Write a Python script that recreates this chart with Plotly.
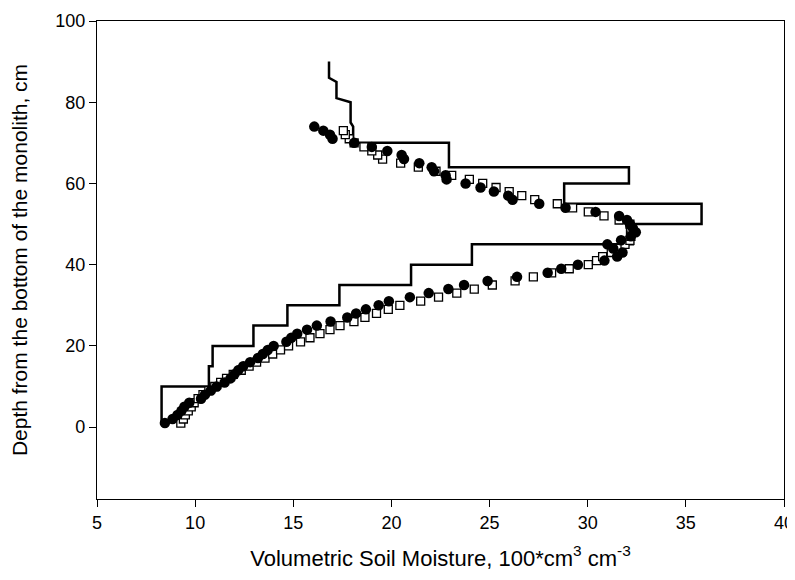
import plotly.graph_objects as go

# measured profile (step line), depth in cm vs moisture
line_depth = [90, 86, 85, 81, 80, 75, 74, 70, 70, 64, 64, 60, 60, 55, 55, 50, 50, 45, 45,
              40, 40, 35, 35, 30, 30, 25, 25, 20, 20, 15, 15, 10, 10, 1]
line_moisture = [16.82, 16.82, 17.2, 17.2, 17.92, 17.92, 18.05, 18.05, 22.93, 22.93, 32.1, 32.1,
                 28.8, 28.8, 35.8, 35.8, 32.3, 32.3, 24.1, 24.1, 21.0, 21.0, 17.35, 17.35,
                 14.7, 14.7, 12.97, 12.97, 10.89, 10.89, 10.7, 10.7, 8.29, 8.29]

# simulated profile A (filled circles), 1..74 cm
circle_depth = list(range(1, 75))
circle_moisture = [8.46, 8.85, 9.1, 9.3, 9.45, 9.7, 10.3, 10.5, 10.8, 11.1,
                   11.5, 11.8, 12.0, 12.2, 12.45, 12.8, 13.2, 13.45, 13.7, 14.0,
                   14.65, 14.9, 15.2, 15.7, 16.2, 16.9, 17.75, 18.2, 18.7, 19.35,
                   19.87, 20.94, 21.9, 22.9, 23.7, 24.9, 26.4, 27.96, 28.65, 29.5,
                   30.85, 31.5, 31.77, 31.3, 31.0, 31.7, 32.2, 32.45, 32.3, 32.15,
                   32.0, 31.6, 30.4, 28.87, 27.53, 26.17, 25.95, 25.22, 24.54, 23.78,
                   22.81, 22.76, 22.17, 22.05, 21.42, 20.64, 20.52, 19.79, 19.0, 18.1,
                   17.0, 16.87, 16.53, 16.07]

# simulated profile B (open squares), 1..73 cm
square_depth = list(range(1, 74))
square_moisture = [9.27, 9.4, 9.5, 9.65, 9.8, 9.95, 10.15, 10.4, 10.7, 11.0,
                   11.3, 11.6, 11.94, 12.35, 12.75, 13.13, 13.56, 13.95, 14.35, 14.76,
                   15.37, 15.85, 16.36, 16.87, 17.38, 18.09, 18.65, 19.24, 19.84, 20.43,
                   21.49, 22.4, 23.33, 24.22, 25.14, 26.3, 27.23, 28.16, 29.06, 30.03,
                   30.45, 30.76, 31.2, 31.6, 31.9, 32.15, 32.2, 32.18, 32.2, 32.15,
                   31.6, 30.83, 30.03, 29.23, 28.45, 27.3, 26.64, 26.0, 25.33, 24.65,
                   23.97, 23.07, 22.27, 21.37, 20.47, 19.55, 19.3, 19.0, 18.6, 18.1,
                   17.85, 17.65, 17.55]

fig = go.Figure()
fig.add_trace(go.Scatter(
    x=line_moisture, y=line_depth, mode="lines",
    line=dict(color="black", width=2.5), showlegend=False,
))
fig.add_trace(go.Scatter(
    x=square_moisture, y=square_depth, mode="markers",
    marker=dict(symbol="square", size=8, color="white", line=dict(color="black", width=1.3)),
    showlegend=False,
))
fig.add_trace(go.Scatter(
    x=circle_moisture, y=circle_depth, mode="markers",
    marker=dict(symbol="circle", size=10.5, color="black", line=dict(width=0)),
    showlegend=False,
))

# the page body has an 8px margin, so the figure is a bit smaller than the window
family = "Liberation Sans, Arial, sans-serif"
fig.update_layout(
    width=787, height=572,
    margin=dict(l=89, r=11, t=13, b=81),
    plot_bgcolor="white", paper_bgcolor="white",
    font=dict(family=family, size=18, color="black"),
    xaxis=dict(
        range=[5, 40], tickvals=[5, 10, 15, 20, 25, 30, 35, 40], automargin=False,
        showgrid=False, zeroline=False, showline=True, linecolor="black", linewidth=1.2,
        mirror=True, ticks="outside", ticklen=7, tickcolor="black",
        tickfont=dict(size=18),
        title=dict(text="Volumetric Soil Moisture, 100*cm<sup>3</sup> cm<sup>-3</sup>",
                   font=dict(size=22), standoff=18),
    ),
    yaxis=dict(
        range=[-17.7, 100], tickvals=[0, 20, 40, 60, 80, 100], automargin=False,
        showgrid=False, zeroline=False, showline=True, linecolor="black", linewidth=1.2,
        mirror=True, ticks="outside", ticklen=7, tickcolor="black",
        tickfont=dict(size=18),
        title=dict(text="Depth from the bottom of the monolith, cm",
                   font=dict(size=21), standoff=30),
    ),
)

fig.write_html("out.html")
